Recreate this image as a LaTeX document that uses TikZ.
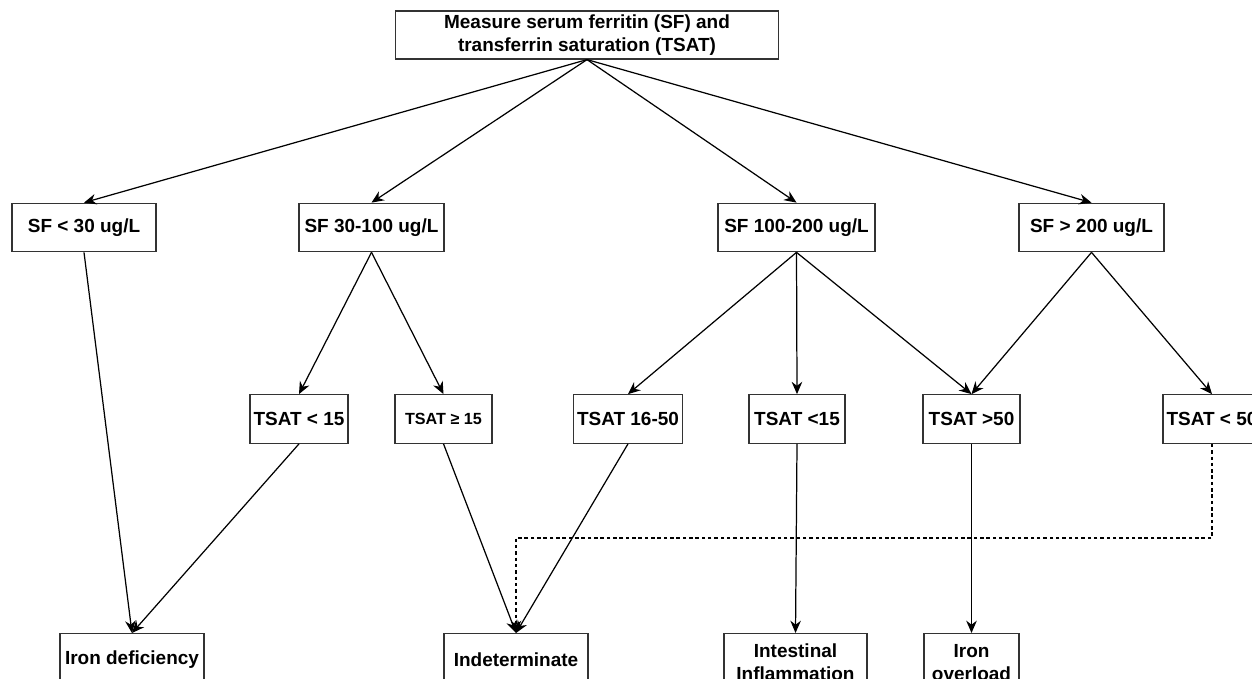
\documentclass[tikz,border=0pt]{standalone}
\usepackage{fontspec}
\setmainfont{Liberation Sans}
\usepackage{tikz}
\usetikzlibrary{positioning,calc,arrows.meta}

\tikzset{
    box/.style={draw=black!80, line width=0.7pt, fill=white, align=center,
        minimum height=0.97cm, inner sep=2pt,
        font=\fontsize{10.8}{13}\selectfont\bfseries},
    leaf/.style={box, anchor=north},
    link/.style={->, line width=0.7pt},
    dotlink/.style={->, line width=0.65pt, dash pattern=on 2pt off 1.6pt}
}

\begin{document}
\begin{tikzpicture}[>={Stealth[length=7pt,width=6pt]}]
    \useasboundingbox (0,0) rectangle (25.04,-13.58);

    % Start
    \node[box, minimum width=7.66cm, minimum height=0.96cm] (start) at (11.74,-0.70)
        {Measure serum ferritin (SF) and\\transferrin saturation (TSAT)};

    % Ferritin ranges
    \node[box, minimum width=2.88cm] (sfa) at (1.68,-4.55) {SF < 30 ug/L};
    \node[box, minimum width=2.90cm] (sfb) at (7.43,-4.55) {SF 30-100 ug/L};
    \node[box, minimum width=3.14cm] (sfc) at (15.93,-4.55) {SF 100-200 ug/L};
    \node[box, minimum width=2.90cm] (sfd) at (21.83,-4.55) {SF > 200 ug/L};

    % TSAT ranges
    \node[box, minimum width=1.94cm] (tsa) at (5.98,-8.38) {TSAT < 15};
    \node[box, minimum width=1.94cm, font=\fontsize{9.2}{11}\selectfont\bfseries] (tsb) at (8.87,-8.38) {TSAT ≥ 15};
    \node[box, minimum width=2.16cm] (tsc) at (12.56,-8.38) {TSAT 16-50};
    \node[box, minimum width=1.92cm] (tsd) at (15.94,-8.38) {TSAT <15};
    \node[box, minimum width=1.94cm] (tse) at (19.43,-8.38) {TSAT >50};
    \node[box, minimum width=1.96cm] (tsf) at (24.24,-8.38) {TSAT < 50};

    % Outcomes
    \node[leaf, minimum width=2.88cm, minimum height=1.04cm] (irondef) at (2.64,-12.66) {Iron deficiency};
    \node[leaf, minimum width=2.88cm, minimum height=1.04cm] (indet) at (10.32,-12.66) {Indeterminate};
    \node[leaf, minimum width=2.86cm, minimum height=1.16cm] (inflam) at (15.91,-12.66) {Intestinal\\Inflammation};
    \node[leaf, minimum width=1.90cm, minimum height=1.16cm] (overload) at (19.43,-12.66) {Iron\\overload};

    % Start to ferritin
    \draw[link] (start.south) -- (sfa.north);
    \draw[link] (start.south) -- (sfb.north);
    \draw[link] (start.south) -- (sfc.north);
    \draw[link] (start.south) -- (sfd.north);

    % Ferritin to TSAT
    \draw[link] (sfb.south) -- (tsa.north);
    \draw[link] (sfb.south) -- (tsb.north);
    \draw[link] (sfc.south) -- (tsc.north);
    \draw[link] (sfc.south) -- (tsd.north);
    \draw[link] (sfc.south) -- (tse.north);
    \draw[link] (sfd.south) -- (tse.north);
    \draw[link] (sfd.south) -- (tsf.north);

    % To outcomes
    \draw[link] (sfa.south) -- (irondef.north);
    \draw[link] (tsa.south) -- (irondef.north);
    \draw[link] (tsb.south) -- (indet.north);
    \draw[link] (tsc.south) -- (indet.north);
    \draw[link] (tsd.south) -- (inflam.north);
    \draw[link] (tse.south) -- (overload.north);

    % Dotted path
    \coordinate (turn) at (10.32,-10.76);
    \draw[dotlink] (tsf.south) |- (turn) -- (indet.north);
\end{tikzpicture}
\end{document}
